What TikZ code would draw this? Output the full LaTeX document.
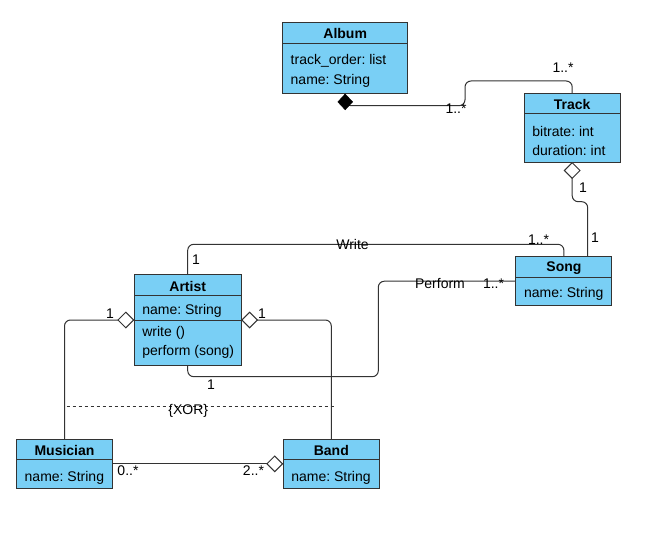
\documentclass[tikz,border=0pt]{standalone}
\usepackage{fontspec}
\setmainfont{Liberation Sans}
\usetikzlibrary{shapes.geometric}
\definecolor{classfill}{RGB}{121,207,245}
\definecolor{edge}{RGB}{51,51,51}
\frenchspacing
\begin{document}
\begin{tikzpicture}[x=1pt,y=-1pt,
  font=\fontsize{14}{16}\selectfont,
  cls/.style={draw=edge,line width=1pt,fill=classfill,inner sep=0pt,rectangle},
  title/.style={font=\fontsize{14}{16}\selectfont\bfseries,inner sep=0pt},
  attr/.style={anchor=west,inner sep=0pt},
  conn/.style={draw=edge,line width=1pt,rounded corners=6pt},
  lbl/.style={inner sep=0pt,text=black},
  hollow/.style={diamond,draw=edge,line width=1pt,fill=white,inner sep=0pt,minimum width=16pt,minimum height=16pt},
  solid diamond/.style={diamond,draw=black,fill=black,inner sep=0pt,minimum width=15pt,minimum height=16pt},
]
\useasboundingbox (0,0) rectangle (671,534);

% class boxes (outlines are drawn later, above the connectors)
\path
  node[minimum width=125pt,minimum height=70.6pt] (album)    at (345.2,58)    {}
  node[minimum width=95.7pt,minimum height=69pt]  (track)    at (572.2,127.8) {}
  node[minimum width=95.7pt,minimum height=49pt]  (song)     at (563.9,281.2) {}
  node[minimum width=106.7pt,minimum height=90pt] (artist)   at (187.7,320)   {}
  node[minimum width=95.6pt,minimum height=49pt]  (musician) at (64.5,463.8)  {}
  node[minimum width=96pt,minimum height=49pt]    (band)     at (331.3,463.8) {};

% bend points of the connectors
\coordinate (a1) at (345.2,105.7);
\coordinate (a2) at (465,105.7);
\coordinate (a3) at (465,81);
\coordinate (a4) at (572.2,81);
\coordinate (t1) at (572.2,201.7);
\coordinate (t2) at (587.7,201.7);
\coordinate (s1) at (587.7,256.7);
\coordinate (w1) at (187.7,244.3);
\coordinate (w2) at (563.9,244.3);
\coordinate (p1) at (378.3,281.2);
\coordinate (p2) at (378.3,376.7);
\coordinate (p3) at (187.7,376.7);
\coordinate (l1) at (64.5,320);
\coordinate (r1) at (331.3,320);

% connectors
\draw[conn] (album.south) -- (a1) -- (a2) -- (a3) -- (a4) -- (track.north);
\draw[conn] (track.south) -- (t1) -- (t2) -- (s1);
\draw[conn] (artist.north) -- (w1) -- (w2) -- (song.north);
\draw[conn] (song.west) -- (p1) -- (p2) -- (p3) -- (artist.south);
\draw[conn] (artist.west) -- (l1) -- (musician.north);
\draw[conn] (artist.east) -- (r1) -- (band.north);
\draw[conn] (musician.east) -- (band.west);
\coordinate (x1) at (66.7,406);
\coordinate (x2) at (335,406);
\draw[draw=edge,line width=1pt,dash pattern=on 3pt off 3pt] (x1) -- (x2);

% class boxes
\foreach \n in {album,track,song,artist,musician,band}{
  \draw[cls] (\n.north west) rectangle (\n.south east);
  \draw[draw=edge,line width=1pt] ([yshift=-20.7pt]\n.north west) -- ([yshift=-20.7pt]\n.north east);
}
\draw[draw=edge,line width=1pt] ([yshift=-45.7pt]artist.north west) -- ([yshift=-45.7pt]artist.north east);

% class names and members
\node[title] (albumT) at ([yshift=-11.3pt]album.north) {Album};
\node[attr] (albumA1) at ([shift={(8,38.2)}]album.north west) {track\_order: list};
\node[attr] (albumA2) at ([shift={(8,58.2)}]album.north west) {name: String};

\node[title] (trackT) at ([yshift=-11.3pt]track.north) {Track};
\node[attr] (trackA1) at ([shift={(8,38.3)}]track.north west) {bitrate: int};
\node[attr] (trackA2) at ([shift={(8,57.6)}]track.north west) {duration: int};

\node[title] (songT) at ([yshift=-11.3pt]song.north) {Song};
\node[attr] (songA1) at ([shift={(8,37.2)}]song.north west) {name: String};

\node[title] (artistT) at ([yshift=-11.3pt]artist.north) {Artist};
\node[attr] (artistA1) at ([shift={(8,35.9)}]artist.north west) {name: String};
\node[attr] (artistM1) at ([shift={(8,58.3)}]artist.north west) {write ()};
\node[attr] (artistM2) at ([shift={(8,76.6)}]artist.north west) {perform (song)};

\node[title] (musicianT) at ([yshift=-11.3pt]musician.north) {Musician};
\node[attr] (musicianA1) at ([shift={(8,38.3)}]musician.north west) {name: String};

\node[title] (bandT) at ([yshift=-11.3pt]band.north) {Band};
\node[attr] (bandA1) at ([shift={(8,38.3)}]band.north west) {name: String};

% aggregation / composition ends
\node[solid diamond] (dAlbum) at ([yshift=-8.4pt]album.south) {};
\node[hollow] (dTrack) at ([yshift=-8pt]track.south) {};
\node[hollow] (dArtistL) at ([xshift=-8.4pt]artist.west) {};
\node[hollow] (dArtistR) at ([xshift=8.4pt]artist.east) {};
\node[hollow] (dBand) at ([xshift=-8.4pt]band.west) {};

% multiplicities and association names
\node[lbl] (m1) at (456,109) {1..*};
\node[lbl] (m2) at (563,68) {1..*};
\node[lbl] (m3) at (583,188) {1};
\node[lbl] (m4) at (595,238) {1};
\node[lbl] (wl) at (352.5,244.3) {Write};
\node[lbl] (m5) at (196,259.3) {1};
\node[lbl] (m6) at (538.5,240) {1..*};
\node[lbl] (pl) at (440,283.3) {Perform};
\node[lbl] (m7) at (493.5,283.3) {1..*};
\node[lbl] (m8) at (211,385) {1};
\node[lbl] (m9) at (110,313.3) {1};
\node[lbl] (m10) at (262,314) {1};
\node[lbl] (m11) at (128,470.5) {0..*};
\node[lbl] (m12) at (253.5,470.5) {2..*};
\node[lbl] (xor) at (188.3,410.5) {\{XOR\}};
\end{tikzpicture}
\end{document}
